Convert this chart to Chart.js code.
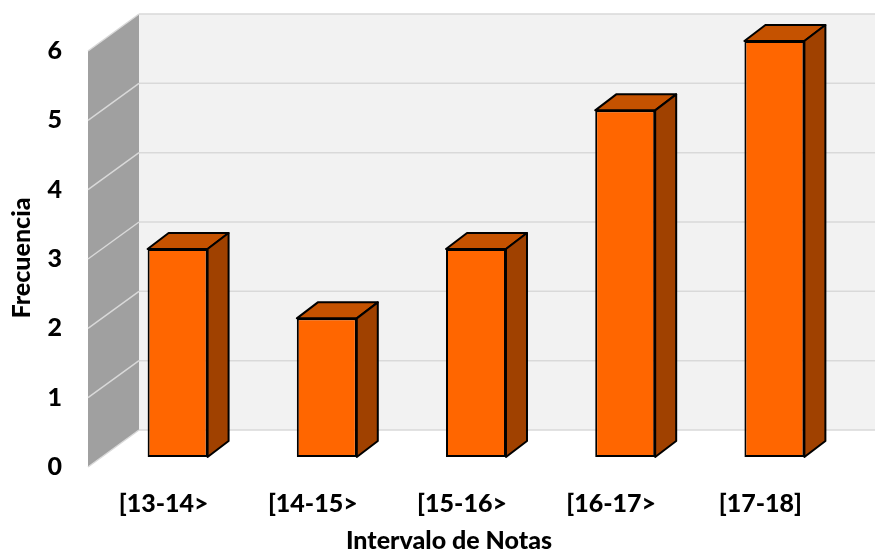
<!DOCTYPE html>
<html>
<head>
<meta charset="utf-8">
<script src="https://cdn.jsdelivr.net/npm/chart.js@4/dist/chart.umd.min.js"></script>
<style>
  html, body { margin: 0; padding: 0; background: #ffffff; }
  #wrap { width: 875px; height: 554px; }
</style>
</head>
<body>
<div id="wrap"><canvas id="c" width="875" height="554"></canvas></div>
<script>
// Frequency table of grades
const categories = ['[13-14>', '[14-15>', '[15-16>', '[16-17>', '[17-18]'];
const frequencies = [3, 2, 3, 5, 6];
const yTicks = [0, 1, 2, 3, 4, 5, 6];
const xTitle = 'Intervalo de Notas';
const yTitle = 'Frecuencia';

const FONT = 'Lato, "Open Sans", sans-serif';
const TEXT_COLOR = '#000000';
const TEXT_WEIGHT = '900';

// Oblique projection offsets relative to the plane of the bar fronts
const FRONT = { dx: -15, dy: 10 };   // front edge of the side wall / floor
const BACK = { dx: 36, dy: -27 };    // back wall
const DEPTH = { dx: 21, dy: -16 };   // bar depth

function poly(ctx, pts, fill, stroke, lw) {
  ctx.beginPath();
  ctx.moveTo(pts[0][0], pts[0][1]);
  for (let i = 1; i < pts.length; i++) ctx.lineTo(pts[i][0], pts[i][1]);
  ctx.closePath();
  if (fill) { ctx.fillStyle = fill; ctx.fill(); }
  if (stroke) { ctx.strokeStyle = stroke; ctx.lineWidth = lw; ctx.stroke(); }
}

const box3d = {
  id: 'box3d',
  beforeDatasetsDraw(chart) {
    const ctx = chart.ctx;
    const y = chart.scales.y;
    const L = chart.chartArea.left;
    const W = chart.width;
    const yMin = y.getPixelForValue(yTicks[0]);
    const yMax = y.getPixelForValue(yTicks[yTicks.length - 1]);
    ctx.save();
    // back wall
    ctx.fillStyle = '#f2f2f2';
    ctx.fillRect(L + BACK.dx, yMax + BACK.dy, W - (L + BACK.dx), yMin - yMax);
    ctx.strokeStyle = '#d9d9d9';
    ctx.lineWidth = 1.5;
    yTicks.forEach(v => {
      const py = y.getPixelForValue(v) + BACK.dy;
      ctx.beginPath();
      ctx.moveTo(L + BACK.dx, py);
      ctx.lineTo(W, py);
      ctx.stroke();
    });
    // side wall
    poly(ctx, [
      [L + FRONT.dx, yMin + FRONT.dy],
      [L + FRONT.dx, yMax + FRONT.dy],
      [L + BACK.dx, yMax + BACK.dy],
      [L + BACK.dx, yMin + BACK.dy]
    ], '#a0a0a0');
    ctx.strokeStyle = '#d9d9d9';
    ctx.lineWidth = 1.5;
    yTicks.forEach(v => {
      const py = y.getPixelForValue(v);
      ctx.beginPath();
      ctx.moveTo(L + FRONT.dx, py + FRONT.dy);
      ctx.lineTo(L + BACK.dx, py + BACK.dy);
      ctx.stroke();
    });
    ctx.restore();
  },
  afterDatasetsDraw(chart) {
    const ctx = chart.ctx;
    const meta = chart.getDatasetMeta(0);
    ctx.save();
    ctx.lineJoin = 'round';
    meta.data.forEach(bar => {
      const p = bar.getProps(['x', 'y', 'base', 'width'], true);
      const l = p.x - p.width / 2, r = p.x + p.width / 2;
      poly(ctx, [[l, p.y], [l + DEPTH.dx, p.y + DEPTH.dy], [r + DEPTH.dx, p.y + DEPTH.dy], [r, p.y]],
        '#c55200', '#000000', 2);
      poly(ctx, [[r, p.y], [r + DEPTH.dx, p.y + DEPTH.dy], [r + DEPTH.dx, p.base + DEPTH.dy], [r, p.base]],
        '#a04100', '#000000', 2);
    });
    ctx.restore();
  },
  afterDraw(chart) {
    const ctx = chart.ctx;
    ctx.save();
    ctx.fillStyle = TEXT_COLOR;
    ctx.font = TEXT_WEIGHT + ' 25px ' + FONT;
    ctx.textAlign = 'center';
    ctx.textBaseline = 'middle';
    ctx.fillText(xTitle, 449, 541);
    ctx.translate(22, 258);
    ctx.rotate(-Math.PI / 2);
    ctx.fillText(yTitle, 0, 0);
    ctx.restore();
  }
};

new Chart(document.getElementById('c'), {
  type: 'bar',
  data: {
    labels: categories,
    datasets: [{
      data: frequencies,
      backgroundColor: '#ff6600',
      borderColor: '#000000',
      borderWidth: 2,
      borderSkipped: false,
      categoryPercentage: 1,
      barPercentage: 0.402
    }]
  },
  options: {
    responsive: false,
    animation: false,
    devicePixelRatio: 1,
    layout: { padding: { top: 41, left: 0, right: 26, bottom: 0 } },
    plugins: { legend: { display: false }, tooltip: { enabled: false } },
    scales: {
      x: {
        grid: { display: false, drawTicks: false },
        border: { display: false },
        ticks: {
          font: { family: FONT, size: 25, weight: TEXT_WEIGHT },
          color: TEXT_COLOR,
          padding: 32,
          labelOffset: -14,
          maxRotation: 0
        },
        afterFit(scale) {
          scale.height = 97;
          scale.paddingLeft = 0;
          scale.paddingRight = 0;
        }
      },
      y: {
        min: 0,
        max: 6,
        grid: { display: false, drawTicks: false },
        border: { display: false },
        ticks: {
          stepSize: 1,
          font: { family: FONT, size: 25, weight: TEXT_WEIGHT },
          color: TEXT_COLOR,
          padding: 41,
          labelOffset: 10
        },
        afterFit(scale) {
          scale.width = 103;
          scale.paddingTop = 0;
          scale.paddingBottom = 0;
        }
      }
    }
  },
  plugins: [box3d]
});
</script>
</body>
</html>
